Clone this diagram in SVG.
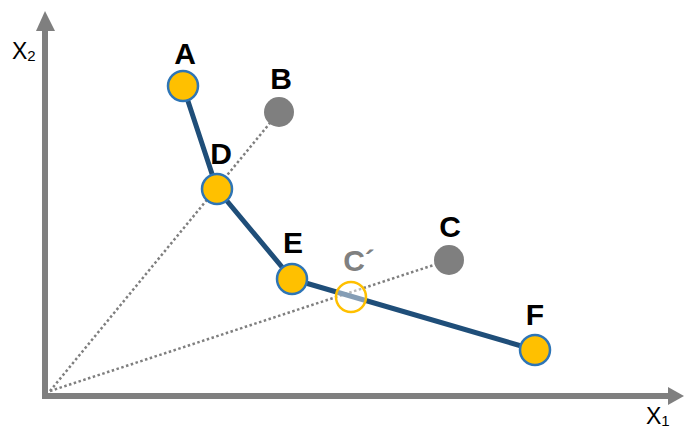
<svg xmlns="http://www.w3.org/2000/svg" width="684" height="432" viewBox="0 0 684 432">
<style>
.lbl{font-family:"Liberation Sans",Arial,sans-serif;font-weight:bold;font-size:30px;fill:#000;text-anchor:middle}
.ax{font-family:"Liberation Sans",Arial,sans-serif;font-size:23px;fill:#000}
.pt{fill:#FFC000;stroke:#2E75B6;stroke-width:2.5}
.gp{fill:#7F7F7F}
.dot{stroke:#7F7F7F;stroke-width:2.5;stroke-dasharray:2.5 2.5;fill:none}
.axis{stroke:#7F7F7F;stroke-width:6;fill:none}
</style>
<rect width="684" height="432" fill="#fff"/>
<g id="connectors">
<line class="axis" x1="45" y1="399" x2="45" y2="30"/>
<polygon points="45,11 36,31 55,31" fill="#7F7F7F"/>
<line class="axis" x1="42" y1="396" x2="669" y2="396"/>
<polygon points="684,396 668,387 668,405" fill="#7F7F7F"/>
<line class="dot" x1="50" y1="391" x2="279" y2="112"/>
<line class="dot" x1="50" y1="391" x2="449" y2="260"/>
<polyline points="183,86 217,189 292,279 535,350" fill="none" stroke="#1F4E79" stroke-width="5" stroke-linejoin="round"/>
</g>
<g id="axis-labels">
<text class="ax" x="12" y="59">X<tspan font-size="15" dy="2">2</tspan></text>
<text class="ax" x="646" y="424">X<tspan font-size="15" dy="2">1</tspan></text>
</g>
<g id="node-B"><circle class="gp" cx="279" cy="112" r="15"/><text class="lbl" x="281" y="89">B</text></g>
<g id="node-C"><circle class="gp" cx="449" cy="260" r="15"/><text class="lbl" x="450" y="237">C</text></g>
<g id="node-A"><circle class="pt" cx="183" cy="86" r="15"/><text class="lbl" x="185" y="64">A</text></g>
<g id="node-D"><circle class="pt" cx="217" cy="189" r="15"/><text class="lbl" x="221" y="164">D</text></g>
<g id="node-E"><circle class="pt" cx="292" cy="279" r="15"/><text class="lbl" x="293" y="253">E</text></g>
<g id="node-Cprime"><circle cx="351" cy="297" r="15" fill="#fff" fill-opacity="0.45" stroke="#FFC000" stroke-width="2.5"/><text class="lbl" x="359" y="271" style="fill:#808080">C´</text></g>
<g id="node-F"><circle class="pt" cx="535" cy="350" r="15"/><text class="lbl" x="535" y="325">F</text></g>
</svg>
